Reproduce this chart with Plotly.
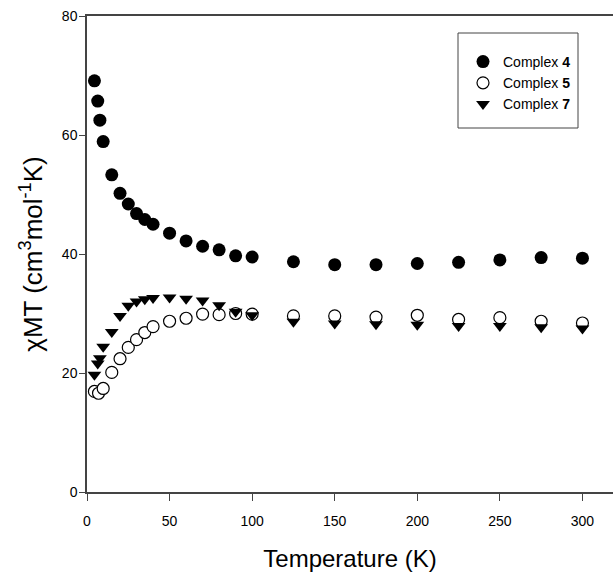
import plotly.graph_objects as go

# Complex 4
t4 = [4.5, 6.5, 7.8, 9.8, 15, 20, 25, 30, 35, 40, 50, 60, 70, 80, 90, 100,
      125, 150, 175, 200, 225, 250, 275, 300]
v4 = [69.1, 65.7, 62.5, 58.9, 53.3, 50.2, 48.4, 46.8, 45.8, 45.0, 43.5, 42.2,
      41.3, 40.7, 39.7, 39.5, 38.7, 38.2, 38.2, 38.4, 38.6, 39.0, 39.4, 39.3]

# Complex 5
t5 = [4.5, 7, 9.8, 15, 20, 25, 30, 35, 40, 50, 60, 70, 80, 90, 100,
      125, 150, 175, 200, 225, 250, 275, 300]
v5 = [16.9, 16.6, 17.4, 20.1, 22.4, 24.3, 25.6, 26.8, 27.8, 28.7, 29.2, 29.9,
      29.8, 30.0, 29.9, 29.6, 29.6, 29.4, 29.7, 29.0, 29.3, 28.7, 28.4]

# Complex 7
t7 = [4.5, 6.5, 7.8, 9.8, 15, 20, 25, 30, 35, 40, 50, 60, 70, 80, 90, 100,
      125, 150, 175, 200, 225, 250, 275, 300]
v7 = [19.7, 21.6, 22.5, 24.4, 26.9, 29.6, 31.3, 32.0, 32.4, 32.6, 32.7, 32.5,
      32.2, 31.4, 30.3, 29.7, 28.6, 28.3, 28.2, 28.1, 27.9, 27.9, 27.7, 27.5]

names = ["Complex <b>4</b>", "Complex <b>5</b>", "Complex <b>7</b>"]

fig = go.Figure()
fig.add_trace(go.Scatter(x=t4, y=v4, mode="markers", name=names[0],
                         marker=dict(symbol="circle", size=13, color="black",
                                     line=dict(width=0))))
fig.add_trace(go.Scatter(x=t5, y=v5, mode="markers", name=names[1],
                         marker=dict(symbol="circle", size=12, color="white",
                                     line=dict(width=1.2, color="black"))))
fig.add_trace(go.Scatter(x=t7, y=v7, mode="markers", name=names[2],
                         marker=dict(symbol="triangle-down", size=12, color="black",
                                     line=dict(width=0))))

fam = "Liberation Sans Narrow, Arial Narrow, Liberation Sans, Arial"
tickfont = dict(family=fam, size=14, color="black")

# plot area in pixels: x 87..613, y 16..492
def px_x(p):
    return (p - 87) / 526.0

def px_y(p):
    return (492 - p) / 476.0

fig.add_shape(type="rect", xref="paper", yref="paper",
              x0=px_x(458), x1=px_x(578), y0=px_y(128), y1=px_y(33),
              line=dict(color="#444", width=1), fillcolor="rgba(0,0,0,0)")

fig.update_layout(
    width=613, height=579,
    margin=dict(l=87, r=0, t=16, b=87),
    paper_bgcolor="white", plot_bgcolor="white",
    showlegend=True,
    legend=dict(x=px_x(463), y=px_y(46), xanchor="left", yanchor="top",
                borderwidth=0, bgcolor="rgba(0,0,0,0)",
                font=dict(family=fam, size=14, color="black"),
                itemwidth=30),
    xaxis=dict(range=[0, 318.5], tickvals=[0, 50, 100, 150, 200, 250, 300],
               ticks="outside", ticklen=7, tickwidth=1.3, tickcolor="#444",
               showline=True, linecolor="#444", linewidth=1.5, mirror=True,
               showgrid=False, zeroline=False, tickfont=tickfont,
               ticklabelstandoff=8,
               title=dict(text="Temperature (K)", standoff=23,
                          font=dict(family=fam, size=24, color="black"))),
    yaxis=dict(range=[0, 80], tickvals=[0, 20, 40, 60, 80],
               ticks="outside", ticklen=6, tickwidth=1.3, tickcolor="#444",
               showline=True, linecolor="#444", linewidth=1.5,
               showgrid=False, zeroline=False, tickfont=tickfont,
               ticklabelstandoff=-1,
               title=dict(text="χMT (cm<sup>3</sup>mol<sup>-1</sup>K)", standoff=12,
                          font=dict(family="Liberation Sans, Arial", size=26, color="black"))),
)

fig.write_html("out.html")
